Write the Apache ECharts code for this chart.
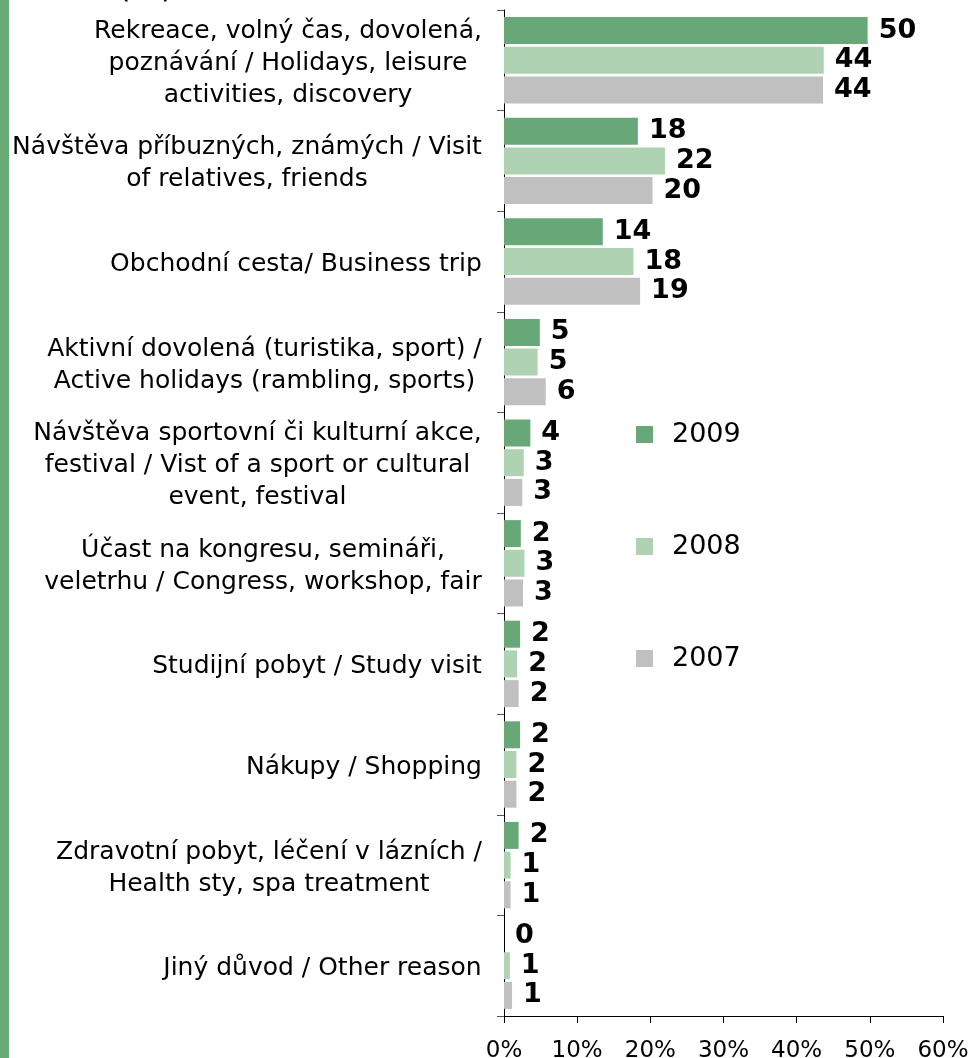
<!DOCTYPE html>
<html>
<head>
<meta charset="utf-8">
<script src="https://cdn.jsdelivr.net/npm/echarts@6/dist/echarts.min.js"></script>
<style>
  html, body { margin: 0; padding: 0; background: #fff; }
  #chart { width: 970px; height: 1058px; }
</style>
</head>
<body>
<div id="chart"></div>
<script>
'use strict';

var categories = [
    'Rekreace, volný čas, dovolená,\npoznávání / Holidays, leisure\nactivities, discovery',
    'Návštěva příbuzných, známých / Visit\nof relatives, friends',
    'Obchodní cesta/ Business trip',
    'Aktivní dovolená (turistika, sport) /\nActive holidays (rambling, sports)',
    'Návštěva sportovní či kulturní akce,\nfestival / Vist of a sport or cultural\nevent, festival',
    'Účast na kongresu, semináři,\nveletrhu / Congress, workshop, fair',
    'Studijní pobyt / Study visit',
    'Nákupy / Shopping',
    'Zdravotní pobyt, léčení v lázních /\nHealth sty, spa treatment',
    'Jiný důvod / Other reason'
];
var years = ['2009', '2008', '2007'];
var values2009 = [49.7, 18.3, 13.5, 4.9, 3.6, 2.3, 2.2, 2.2, 2.0, 0];
var values2008 = [43.7, 22.0, 17.7, 4.6, 2.7, 2.8, 1.8, 1.7, 0.9, 0.8];
var values2007 = [43.6, 20.3, 18.6, 5.7, 2.5, 2.6, 2.0, 1.7, 0.9, 1.1];
var xTicks = [0, 10, 20, 30, 40, 50, 60];

var colors = ['#68a878', '#afd3b2', '#c0c0c0'];
var font = '"DejaVu Sans", Verdana, sans-serif';
var catFontSize = 25;

// width of the widest line of each label, so lines can be centred in the block
var ctx = document.createElement('canvas').getContext('2d');
ctx.font = catFontSize + 'px ' + font;
var rich = {};
categories.forEach(function (c, i) {
    var w = 0;
    c.split('\n').forEach(function (line) {
        w = Math.max(w, ctx.measureText(line).width);
    });
    rich['l' + i] = {
        width: Math.ceil(w) + 2,
        align: 'center',
        fontSize: catFontSize,
        fontFamily: font,
        color: '#000',
        lineHeight: 32
    };
});

var labelOpt = {
    show: true,
    position: 'right',
    distance: 11,
    color: '#000',
    fontSize: 27,
    fontWeight: 'bold',
    fontFamily: font,
    formatter: function (p) { return Math.round(p.value); }
};

function makeSeries(name, data, idx) {
    return {
        name: name,
        type: 'bar',
        data: data,
        barWidth: 27,
        barGap: '10%',
        itemStyle: { color: colors[idx] },
        label: labelOpt,
        emphasis: { disabled: true }
    };
}

var chart = echarts.init(document.getElementById('chart'));
chart.setOption({
    animation: false,
    color: colors,
    textStyle: { fontFamily: font },
    grid: { left: 504, right: 27, top: 10, bottom: 42, containLabel: false, outerBoundsMode: 'none' },
    legend: {
        data: years,
        orient: 'vertical',
        left: 631,
        top: 416,
        icon: 'rect',
        itemWidth: 17,
        itemHeight: 17,
        itemGap: 85,
        textStyle: { fontSize: 27, color: '#000', fontFamily: font, lineHeight: 17, padding: [0, 0, 0, 14] }
    },
    xAxis: {
        type: 'value',
        min: xTicks[0],
        max: xTicks[xTicks.length - 1],
        interval: 10,
        splitLine: { show: false },
        axisLine: { show: true, lineStyle: { color: '#000', width: 1 } },
        axisTick: { show: true, length: 7, lineStyle: { color: '#000' } },
        axisLabel: {
            margin: 24,
            fontSize: 23,
            color: '#000',
            fontFamily: font,
            formatter: '{value}%'
        }
    },
    yAxis: {
        type: 'category',
        data: categories,
        inverse: true,
        axisLine: { show: true, lineStyle: { color: '#000', width: 1 } },
        axisTick: { show: true, length: 7, lineStyle: { color: '#555' } },
        axisLabel: {
            margin: 21,
            interval: 0,
            padding: [6, 0, 0, 0],
            formatter: function (value, index) {
                return value.split('\n').map(function (line) {
                    return '{l' + index + '|' + line + '}';
                }).join('\n');
            },
            rich: rich
        }
    },
    graphic: [
        { type: 'rect', left: 0, top: 0, shape: { width: 9, height: 1058 }, style: { fill: '#6aaa78' } },
        { type: 'text', left: 118, top: -27, style: { text: '(%)', fontSize: 32, fontFamily: font, fill: '#000' } }
    ],
    series: [
        makeSeries(years[0], values2009, 0),
        makeSeries(years[1], values2008, 1),
        makeSeries(years[2], values2007, 2)
    ]
});
</script>
</body>
</html>
